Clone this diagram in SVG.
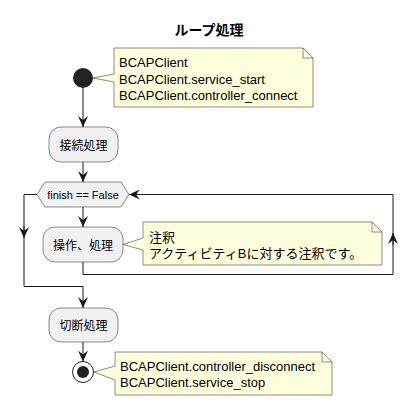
<svg xmlns="http://www.w3.org/2000/svg" width="418" height="406" viewBox="0 0 418 406">
<style>
.act{fill:#F1F1F1;stroke:#181818;stroke-width:0.5}
.note{fill:#FEFFDD;stroke:#181818;stroke-width:0.5}
.fold{fill:none;stroke:#181818;stroke-width:0.5}
.lbl{font-family:"Liberation Sans","Noto Sans CJK JP",sans-serif;font-size:12px;fill:#000}
.ntxt{font-family:"Liberation Sans","Noto Sans CJK JP",sans-serif;font-size:13px;fill:#000}
.cond{font-family:"Liberation Sans","Noto Sans CJK JP",sans-serif;font-size:11px;fill:#000}
.title{font-family:"Liberation Sans","Noto Sans CJK JP",sans-serif;font-size:14px;font-weight:bold;fill:#000}
.edge{fill:none;stroke:#181818;stroke-width:1}
</style>
<defs>
<marker id="ah" viewBox="0 0 11 10" refX="11" refY="5" markerWidth="11" markerHeight="10" markerUnits="userSpaceOnUse" orient="auto">
<path d="M0,0 L11,5 L0,10 L4,5 Z" fill="#181818"/>
</marker>
</defs>
<text class="title" x="209" y="35" text-anchor="middle">ループ処理</text>

<g id="connectors">
<line class="edge" x1="83" y1="88" x2="83" y2="127" marker-end="url(#ah)"/>
<line class="edge" x1="83" y1="162" x2="83" y2="182" marker-end="url(#ah)"/>
<line class="edge" x1="83" y1="207" x2="83" y2="227" marker-end="url(#ah)"/>
<path class="edge" d="M83,262 L83,274.5 L393,274.5 L393,194.5 L129,194.5" marker-end="url(#ah)"/>
<line class="edge" x1="393" y1="245" x2="393" y2="233" marker-end="url(#ah)"/>
<path class="edge" d="M37,194.5 L24,194.5 L24,286.5 L83,286.5 L83,308" marker-end="url(#ah)"/>
<line class="edge" x1="24" y1="226" x2="24" y2="238" marker-end="url(#ah)"/>
<line class="edge" x1="83" y1="342" x2="83" y2="361.5" marker-end="url(#ah)"/>
</g>

<g id="start">
<circle cx="83" cy="78" r="10" fill="#222222"/>
</g>

<g id="note1">
<path class="note" d="M114,48 L303,48 L313,58 L313,107 L114,107 L114,82 L93,78 L114,74 Z"/>
<path class="fold" d="M303,48 L303,58 L313,58"/>
<text class="ntxt" x="119" y="67">BCAPClient</text>
<text class="ntxt" x="119" y="83.5">BCAPClient.service_start</text>
<text class="ntxt" x="119" y="100">BCAPClient.controller_connect</text>
</g>

<g id="act1">
<rect class="act" x="49" y="127" width="69" height="35" rx="12" ry="12"/>
<text class="lbl" x="83.5" y="149.5" text-anchor="middle">接続処理</text>
</g>

<g id="cond">
<polygon class="act" points="37,194.5 45,182 121,182 129,194.5 121,207 45,207"/>
<text class="cond" x="83" y="198.5" text-anchor="middle">finish == False</text>
</g>

<g id="act2">
<rect class="act" x="43" y="227" width="80" height="35" rx="12" ry="12"/>
<text class="lbl" x="83" y="249.5" text-anchor="middle">操作、処理</text>
</g>

<g id="note2">
<path class="note" d="M143,222 L372,222 L382,232 L382,265 L143,265 L143,250 L123,244.5 L143,238 Z"/>
<path class="fold" d="M372,222 L372,232 L382,232"/>
<text class="ntxt" x="149" y="241.5">注釈</text>
<text class="ntxt" x="149" y="258">アクティビティBに対する注釈です。</text>
</g>

<g id="act3">
<rect class="act" x="49" y="308" width="69" height="34" rx="12" ry="12"/>
<text class="lbl" x="83.5" y="330" text-anchor="middle">切断処理</text>
</g>

<g id="end">
<circle cx="83" cy="372" r="10.5" fill="none" stroke="#222222" stroke-width="1"/>
<circle cx="83" cy="372" r="6" fill="#222222"/>
</g>

<g id="note3">
<path class="note" d="M115,352 L322,352 L332,362 L332,395 L115,395 L115,380 L94,372 L115,366 Z"/>
<path class="fold" d="M322,352 L322,362 L332,362"/>
<text class="ntxt" x="120" y="370.5">BCAPClient.controller_disconnect</text>
<text class="ntxt" x="120" y="387">BCAPClient.service_stop</text>
</g>
</svg>
